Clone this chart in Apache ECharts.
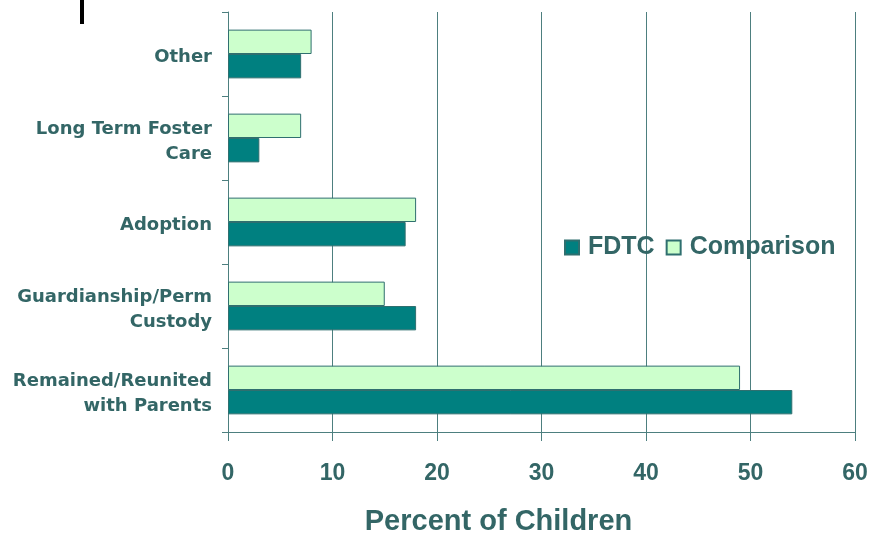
<!DOCTYPE html>
<html>
<head>
<meta charset="utf-8">
<script src="https://cdn.jsdelivr.net/npm/echarts@6/dist/echarts.min.js"></script>
<style>
  html, body { margin: 0; padding: 0; background: #fff; }
  #main { width: 883px; height: 550px; }
</style>
</head>
<body>
<div id="main"></div>
<script>
// categories listed bottom to top
var categories = ['Remained/Reunited\nwith Parents', 'Guardianship/Perm\nCustody', 'Adoption', 'Long Term Foster\nCare', 'Other'];
var fdtcValues = [54, 18, 17, 3, 7];
var comparisonValues = [49, 15, 18, 7, 8];
var xTicks = [0, 10, 20, 30, 40, 50, 60];

var textColor = '#336666';
var lineColor = '#4d7f7f';

var myChart = echarts.init(document.getElementById('main'));

var option = {
    animation: false,
    textStyle: { fontFamily: 'Liberation Sans, Arial, sans-serif' },
    grid: { left: 228, right: 28, top: 12, bottom: 118 },
    legend: {
        data: ['FDTC', 'Comparison'],
        left: 564,
        top: 235,
        padding: 0,
        itemWidth: 14,
        itemHeight: 14,
        itemGap: 11,
        icon: 'rect',
        textStyle: { color: textColor, fontSize: 25, fontWeight: 'bold', padding: [0, 0, 0, 4] }
    },
    xAxis: {
        type: 'value',
        min: xTicks[0],
        max: xTicks[xTicks.length - 1],
        interval: 10,
        name: 'Percent of Children',
        nameLocation: 'middle',
        nameGap: 75,
        nameTextStyle: { color: textColor, fontSize: 29, fontWeight: 'bold', padding: [0, 86, 0, 0] },
        axisLine: { show: true, lineStyle: { color: lineColor, width: 1 } },
        axisTick: { show: true, length: 9, inside: false, lineStyle: { color: lineColor } },
        axisLabel: { color: textColor, fontSize: 23, fontWeight: 'bold', margin: 30 },
        splitLine: { show: true, lineStyle: { color: lineColor, width: 1 } }
    },
    yAxis: {
        type: 'category',
        data: categories,
        axisLine: { show: true, lineStyle: { color: lineColor, width: 1 } },
        axisTick: { show: true, length: 6, lineStyle: { color: lineColor } },
        axisLabel: {
            margin: 16, align: 'right',
            // small empty line on top nudges the label block down a few pixels
            formatter: function (v) {
                return '{gap| }\n{t|' + v.split('\n').join('}\n{t|') + '}';
            },
            rich: {
                gap: { fontSize: 1, lineHeight: 7 },
                t: {
                    color: textColor, fontSize: 18, fontWeight: 'bold', lineHeight: 25, align: 'right',
                    fontFamily: 'DejaVu Sans, Verdana, sans-serif'
                }
            }
        }
    },
    series: [
        {
            name: 'Comparison',
            type: 'bar',
            data: comparisonValues,
            barGap: '0%',
            barCategoryGap: '42%',
            itemStyle: { color: '#ccffcc', borderColor: '#2f6f6f', borderWidth: 1 }
        },
        {
            name: 'FDTC',
            type: 'bar',
            data: fdtcValues,
            itemStyle: { color: '#008080', borderColor: '#2f6f6f', borderWidth: 1 }
        }
    ],
    graphic: [
        { type: 'rect', left: 80, top: 0, shape: { width: 4, height: 24 }, style: { fill: '#000' } }
    ]
};

myChart.setOption(option);
</script>
</body>
</html>
